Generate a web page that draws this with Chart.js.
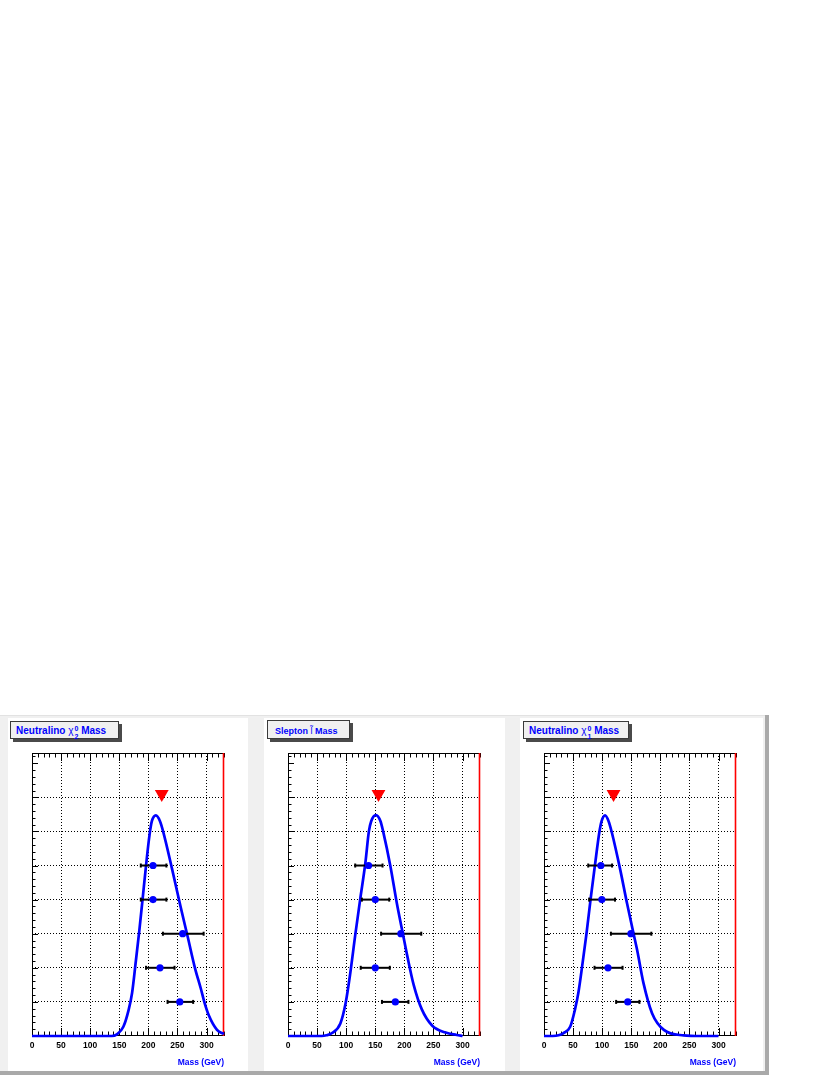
<!DOCTYPE html>
<html>
<head>
<meta charset="utf-8">
<script src="https://cdn.jsdelivr.net/npm/chart.js@4/dist/chart.umd.min.js"></script>
<style>
  body { margin:0; width:830px; height:1075px; background:#fff; position:relative; overflow:hidden;
         font-family:"Liberation Sans", Arial, sans-serif; }
  .abs { position:absolute; }
  #bg { left:0; top:715px; width:765px; height:356px; background:#f0f0f0; border-top:1px solid #e2e2e2; box-sizing:border-box; }
  #shR { left:765px; top:715px; width:4px; height:360px; background:#a9a9a9; }
  #shB { left:0; top:1071px; width:769px; height:4px; background:#a9a9a9; }
  .pad { top:718px; height:353px; background:#fff; }
  .pave { position:absolute; box-sizing:border-box; background:#f0f0f0; border:1px solid #3a3a3a;
          box-shadow:3px 3px 0 #4a4a4a; color:#0000ff; font-weight:bold; white-space:nowrap; }
  .big { font-size:10px; height:18px; line-height:17px; padding-left:5px; }
  .small { font-size:9px; height:19px; line-height:21px; padding-left:7px; }
  .chi { font-weight:normal; }
  .ss { display:inline-flex; flex-direction:column; font-size:7px; line-height:8px; vertical-align:3px; margin-left:1px; }
  .thin { font-weight:normal; }
  canvas { position:absolute; top:745px; }
</style>
</head>
<body>
<div id="bg" class="abs"></div>
<div id="shR" class="abs"></div>
<div id="shB" class="abs"></div>
<div class="abs pad" style="left:8px;width:240px"></div>
<div class="abs pad" style="left:264px;width:241px"></div>
<div class="abs pad" style="left:520px;width:243px"></div>

<div class="pave big" style="left:10px;top:721px;width:109px">Neutralino <span class="chi">χ</span><span class="ss"><span>0</span><span>2</span></span> Mass</div>
<div class="pave small" style="left:267px;top:720px;width:83px">Slepton <span class="thin">l&#771;</span> Mass</div>
<div class="pave big" style="left:523px;top:721px;width:106px">Neutralino <span class="chi">χ</span><span class="ss"><span>0</span><span>1</span></span> Mass</div>

<canvas id="c1" width="216" height="326" style="left:20px"></canvas>
<canvas id="c2" width="216" height="326" style="left:276px"></canvas>
<canvas id="c3" width="216" height="326" style="left:532px"></canvas>

<script>
// axes
const X_MAX = 330, X_MINOR = 10, X_MAJOR = 50;
const Y_MAX = 8.3, Y_MINOR = 0.2;
const MASS_TICKS = [0, 50, 100, 150, 200, 250, 300];
const GRID_ROWS = [1, 2, 3, 4, 5, 6, 7];

// one measurement per row, top to bottom
const ROWS = [5, 4, 3, 2, 1];
const MARKER_ROW = 7.1;

// neutralino chi_2^0
const CHI2_MASS = [208, 208, 259, 220, 254];
const CHI2_LO   = [187, 187, 225, 196, 233];
const CHI2_HI   = [231, 231, 295, 245, 277];
const CHI2_TRUE = 223;
const CHI2_CURVE_X = [0, 137, 146, 157, 166, 172, 178.5, 184.5, 190, 196, 202, 206, 213, 220, 226, 241, 255, 268, 280, 290, 297, 304, 318, 330];
const CHI2_CURVE_Y = [0, 0, 0.05, 0.27, 0.76, 1.26, 2.2, 3.1, 4.0, 5.0, 5.9, 6.3, 6.47, 6.3, 5.96, 4.88, 3.82, 2.88, 2.0, 1.4, 0.95, 0.6, 0.18, 0.06];

// slepton
const SLEP_MASS = [138.5, 150, 194, 150, 184.5];
const SLEP_LO   = [115.5, 127, 160, 125, 161.5];
const SLEP_HI   = [162.5, 174, 229, 175, 207];
const SLEP_TRUE = 155.5;
const SLEP_CURVE_X = [0, 58, 66, 75, 90, 99, 107, 115.5, 124, 133, 139, 143, 151, 159, 163.5, 176, 187, 198, 205, 216, 230, 248, 271, 290, 300];
const SLEP_CURVE_Y = [0, 0, 0.02, 0.08, 0.37, 0.96, 1.84, 2.95, 4.0, 5.08, 6.0, 6.3, 6.48, 6.3, 6.0, 4.98, 3.9, 2.95, 2.35, 1.5, 0.78, 0.3, 0.1, 0.03, 0];

// neutralino chi_1^0
const CHI1_MASS = [97.7, 99.4, 149.4, 110, 144];
const CHI1_LO   = [76, 77.6, 115, 86.8, 124];
const CHI1_HI   = [117, 122, 184.5, 135, 164];
const CHI1_TRUE = 119.5;
const CHI1_CURVE_X = [0, 15, 25, 33, 45, 53, 59, 66, 73, 80, 87.5, 95, 99, 105, 111, 116.7, 131, 142.6, 155, 160, 171, 185.7, 206, 240, 270, 300];
const CHI1_CURVE_Y = [0, 0, 0.02, 0.08, 0.27, 0.76, 1.26, 2.1, 3.0, 4.0, 5.0, 5.96, 6.3, 6.47, 6.3, 5.96, 4.88, 3.9, 2.92, 2.53, 1.55, 0.67, 0.18, 0.02, 0, 0];

const BLUE = "#0000ff", RED = "#ff0000";

// ROOT style frame: black box, red right edge, inward ticks on bottom/top/left
const rootFrame = {
  id: "rootFrame",
  beforeDatasetsDraw(chart){
    const { ctx, chartArea:a, scales:{ x, y } } = chart;
    ctx.save();
    ctx.strokeStyle = "#000"; ctx.lineWidth = 1;
    ctx.beginPath();
    for (let k = 0; k * X_MINOR <= X_MAX; k++){
      const v = k * X_MINOR, px = Math.round(x.getPixelForValue(v)) + 0.5;
      const len = v % X_MAJOR === 0 ? 8 : 4.5;
      ctx.moveTo(px, a.bottom); ctx.lineTo(px, a.bottom - len);
      ctx.moveTo(px, a.top);    ctx.lineTo(px, a.top + len);
    }
    for (let k = 0; k * Y_MINOR <= Y_MAX; k++){
      const py = Math.round(y.getPixelForValue(k * Y_MINOR)) + 0.5;
      const len = k % 5 === 0 ? 6 : 3.5;
      ctx.moveTo(a.left, py); ctx.lineTo(a.left + len, py);
    }
    ctx.moveTo(a.right, a.top + 0.5);   ctx.lineTo(a.left + 0.5, a.top + 0.5);
    ctx.lineTo(a.left + 0.5, a.bottom - 0.5); ctx.lineTo(a.right, a.bottom - 0.5);
    ctx.stroke();
    ctx.strokeStyle = RED; ctx.lineWidth = 1.6;
    ctx.beginPath(); ctx.moveTo(a.right - 0.5, a.top); ctx.lineTo(a.right - 0.5, a.bottom); ctx.stroke();
    ctx.restore();
  }
};

function makePanel(id, mass, lo, hi, truth, cx, cy){
  const bars = ROWS.map((r, i) => ({
    type:"line", order:1, data:[{ x:lo[i], y:r }, { x:hi[i], y:r }],
    borderColor:"#000", borderWidth:2, pointStyle:"line", pointRotation:90,
    pointRadius:2, pointBorderWidth:2, pointBorderColor:"#000",
  }));
  new Chart(document.getElementById(id), {
    type:"scatter",
    data:{ datasets:[
      { type:"line", order:3, data: cx.map((v, i) => ({ x:v, y:cy[i] })), borderColor:BLUE, borderWidth:2.7,
        pointRadius:0, cubicInterpolationMode:"monotone", clip:false },
      ...bars,
      { order:0, data: ROWS.map((r, i) => ({ x:mass[i], y:r })), pointRadius:3.6,
        backgroundColor:BLUE, borderColor:BLUE, borderWidth:0 },
      { order:0, data:[{ x:truth, y:MARKER_ROW }], pointStyle:"triangle", rotation:180,
        pointRadius:8, backgroundColor:RED, borderWidth:0 },
    ]},
    options:{
      responsive:false, animation:false, events:[],
      layout:{ padding:{ left:12, right:12, top:8, bottom:4 } },
      plugins:{ legend:{ display:false }, tooltip:{ enabled:false } },
      scales:{
        x:{ type:"linear", position:"bottom", min:0, max:X_MAX,
          afterBuildTicks: s => { s.ticks = MASS_TICKS.map(v => ({ value:v })); },
          afterFit: s => { s.height = 31; },
          ticks:{ color:"#000", padding:5, maxRotation:0, autoSkip:false,
            font:{ family:"Liberation Sans", size:8.5, weight:"bold" } },
          grid:{ color:"#000", lineWidth:1, drawTicks:false },
          border:{ display:false, dash:[1, 2] },
          title:{ display:true, text:"Mass (GeV)", align:"end", color:BLUE, padding:{ top:0, bottom:-1 },
            font:{ family:"Liberation Sans", size:8.5, weight:"bold" } } },
        y:{ type:"linear", min:0, max:Y_MAX,
          afterBuildTicks: s => { s.ticks = GRID_ROWS.map(v => ({ value:v })); },
          afterFit: s => { s.width = 0; },
          ticks:{ display:false },
          grid:{ color:"#000", lineWidth:1, drawTicks:false },
          border:{ display:false, dash:[1, 2] } },
      },
    },
    plugins:[rootFrame],
  });
}

makePanel("c1", CHI2_MASS, CHI2_LO, CHI2_HI, CHI2_TRUE, CHI2_CURVE_X, CHI2_CURVE_Y);
makePanel("c2", SLEP_MASS, SLEP_LO, SLEP_HI, SLEP_TRUE, SLEP_CURVE_X, SLEP_CURVE_Y);
makePanel("c3", CHI1_MASS, CHI1_LO, CHI1_HI, CHI1_TRUE, CHI1_CURVE_X, CHI1_CURVE_Y);
</script>
</body>
</html>
